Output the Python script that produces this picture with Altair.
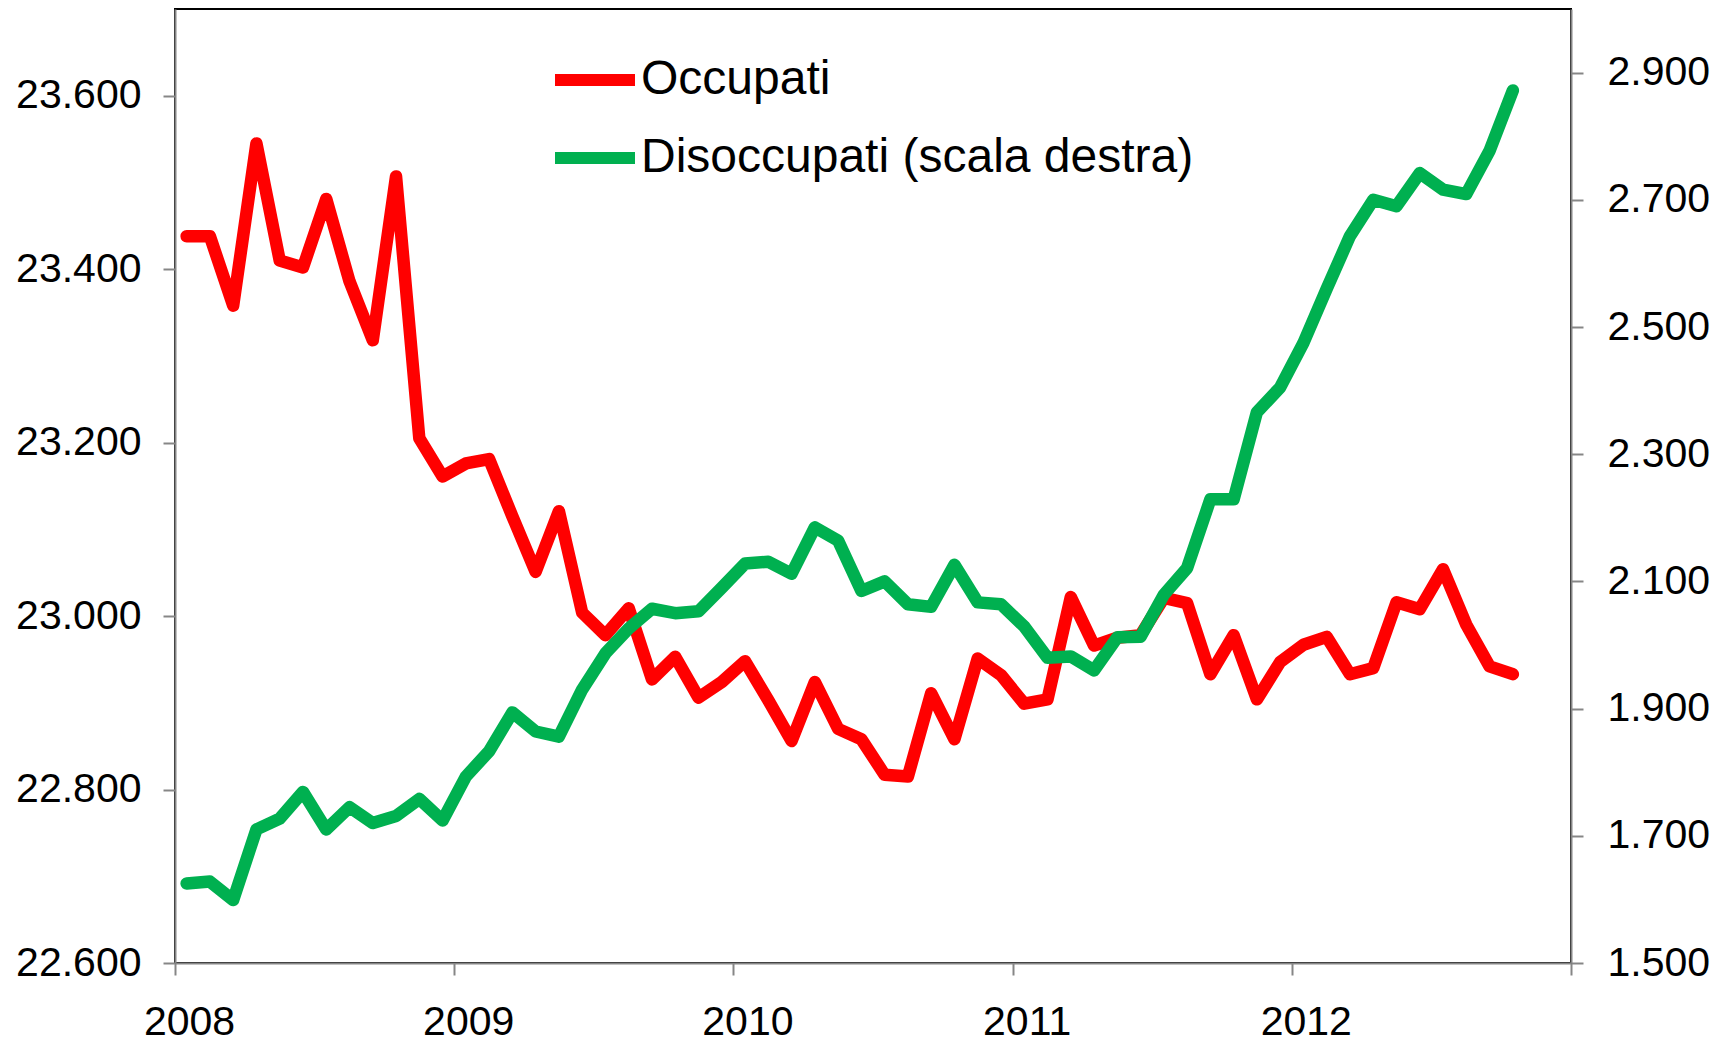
import altair as alt
import pandas as pd

# Monthly data, Jan 2008 - Oct 2012 (thousands)
years = [2008] * 12 + [2009] * 12 + [2010] * 12 + [2011] * 12 + [2012] * 10
months = list(range(1, 13)) * 4 + list(range(1, 11))

occupati = [23438, 23438, 23358, 23545, 23410, 23402, 23481, 23386, 23318, 23507,
            23205, 23161, 23176, 23181, 23115, 23051, 23121, 23004, 22978, 23009,
            22927, 22953, 22906, 22924, 22948, 22903, 22856, 22924, 22870, 22858,
            22817, 22815, 22911, 22858, 22951, 22932, 22899, 22904, 23022, 22966,
            22975, 22978, 23021, 23015, 22933, 22978, 22904, 22947, 22967, 22976,
            22933, 22940, 23016, 23008, 23054, 22990, 22942, 22933]

disoccupati = [1625, 1628, 1599, 1710, 1727, 1769, 1710, 1745, 1720, 1731,
               1758, 1724, 1793, 1833, 1894, 1864, 1856, 1930, 1987, 2026,
               2057, 2050, 2053, 2090, 2128, 2131, 2112, 2185, 2164, 2085,
               2100, 2064, 2060, 2126, 2067, 2064, 2029, 1980, 1982, 1960,
               2012, 2013, 2079, 2121, 2229, 2229, 2366, 2405, 2475, 2560,
               2643, 2700, 2690, 2742, 2716, 2709, 2777, 2872]

series_names = ["Occupati", "Disoccupati (scala destra)"]
series_colors = ["#FF0000", "#00B050"]

year_ticks = [2008, 2009, 2010, 2011, 2012, 2013]
left_ticks = [22600, 22800, 23000, 23200, 23400, 23600]
right_ticks = [1500, 1700, 1900, 2100, 2300, 2500, 2700, 2900]

t = [y + (m - 0.5) / 12 for y, m in zip(years, months)]
df = pd.concat([
    pd.DataFrame({"t": t, "valore": occupati, "serie": series_names[0]}),
    pd.DataFrame({"t": t, "valore": disoccupati, "serie": series_names[1]}),
])

num_fmt = "replace(format(datum.value, ','), ',', '.')"

x_enc = alt.X(
    "t:Q",
    scale=alt.Scale(domain=[2008, 2013], nice=False, zero=False),
    axis=alt.Axis(values=year_ticks, title=None, labelFlush=False, labelOverlap=False,
                  labelExpr="datum.value < 2013 ? format(datum.value, 'd') : ''",
                  labelOffset=14, labelPadding=27),
)

color_enc = alt.Color(
    "serie:N",
    scale=alt.Scale(domain=series_names, range=series_colors),
    legend=alt.Legend(title=None, orient="none", legendX=374, legendY=25,
                      symbolType="stroke", symbolStrokeWidth=12, symbolSize=6400,
                      labelFont="Liberation Sans", labelFontSize=48, labelColor="black",
                      labelOffset=0, rowPadding=8, padding=0, labelLimit=1000),
)

base = alt.Chart(df)

red = base.transform_filter(alt.datum.serie == series_names[0]).mark_line(
    strokeWidth=12.5, strokeCap="round", strokeJoin="round"
).encode(
    x=x_enc,
    y=alt.Y("valore:Q", scale=alt.Scale(domain=[22600, 23700], nice=False, zero=False),
            axis=alt.Axis(orient="left", values=left_ticks, title=None,
                          labelExpr=num_fmt, labelPadding=22)),
    color=color_enc,
)

green = base.transform_filter(alt.datum.serie == series_names[1]).mark_line(
    strokeWidth=12.5, strokeCap="round", strokeJoin="round"
).encode(
    x=x_enc,
    y=alt.Y("valore:Q", scale=alt.Scale(domain=[1500, 3000], nice=False, zero=False),
            axis=alt.Axis(orient="right", values=right_ticks, title=None,
                          labelExpr=num_fmt, labelPadding=24)),
    color=color_enc,
)

chart = alt.layer(red, green).resolve_scale(y="independent").properties(
    width=1396, height=954,
    autosize="none",
    padding={"left": 167, "top": 1, "right": 150, "bottom": 90},
    background="white",
).configure_view(
    stroke="black", strokeWidth=2
).configure_axis(
    domainColor="#868686", domainWidth=2,
    tickColor="#868686", tickWidth=2, tickSize=12,
    labelFont="Liberation Sans", labelFontSize=41, labelColor="black",
    grid=False,
)

chart.save("out.html", embed_options={"renderer": "svg", "actions": False})
